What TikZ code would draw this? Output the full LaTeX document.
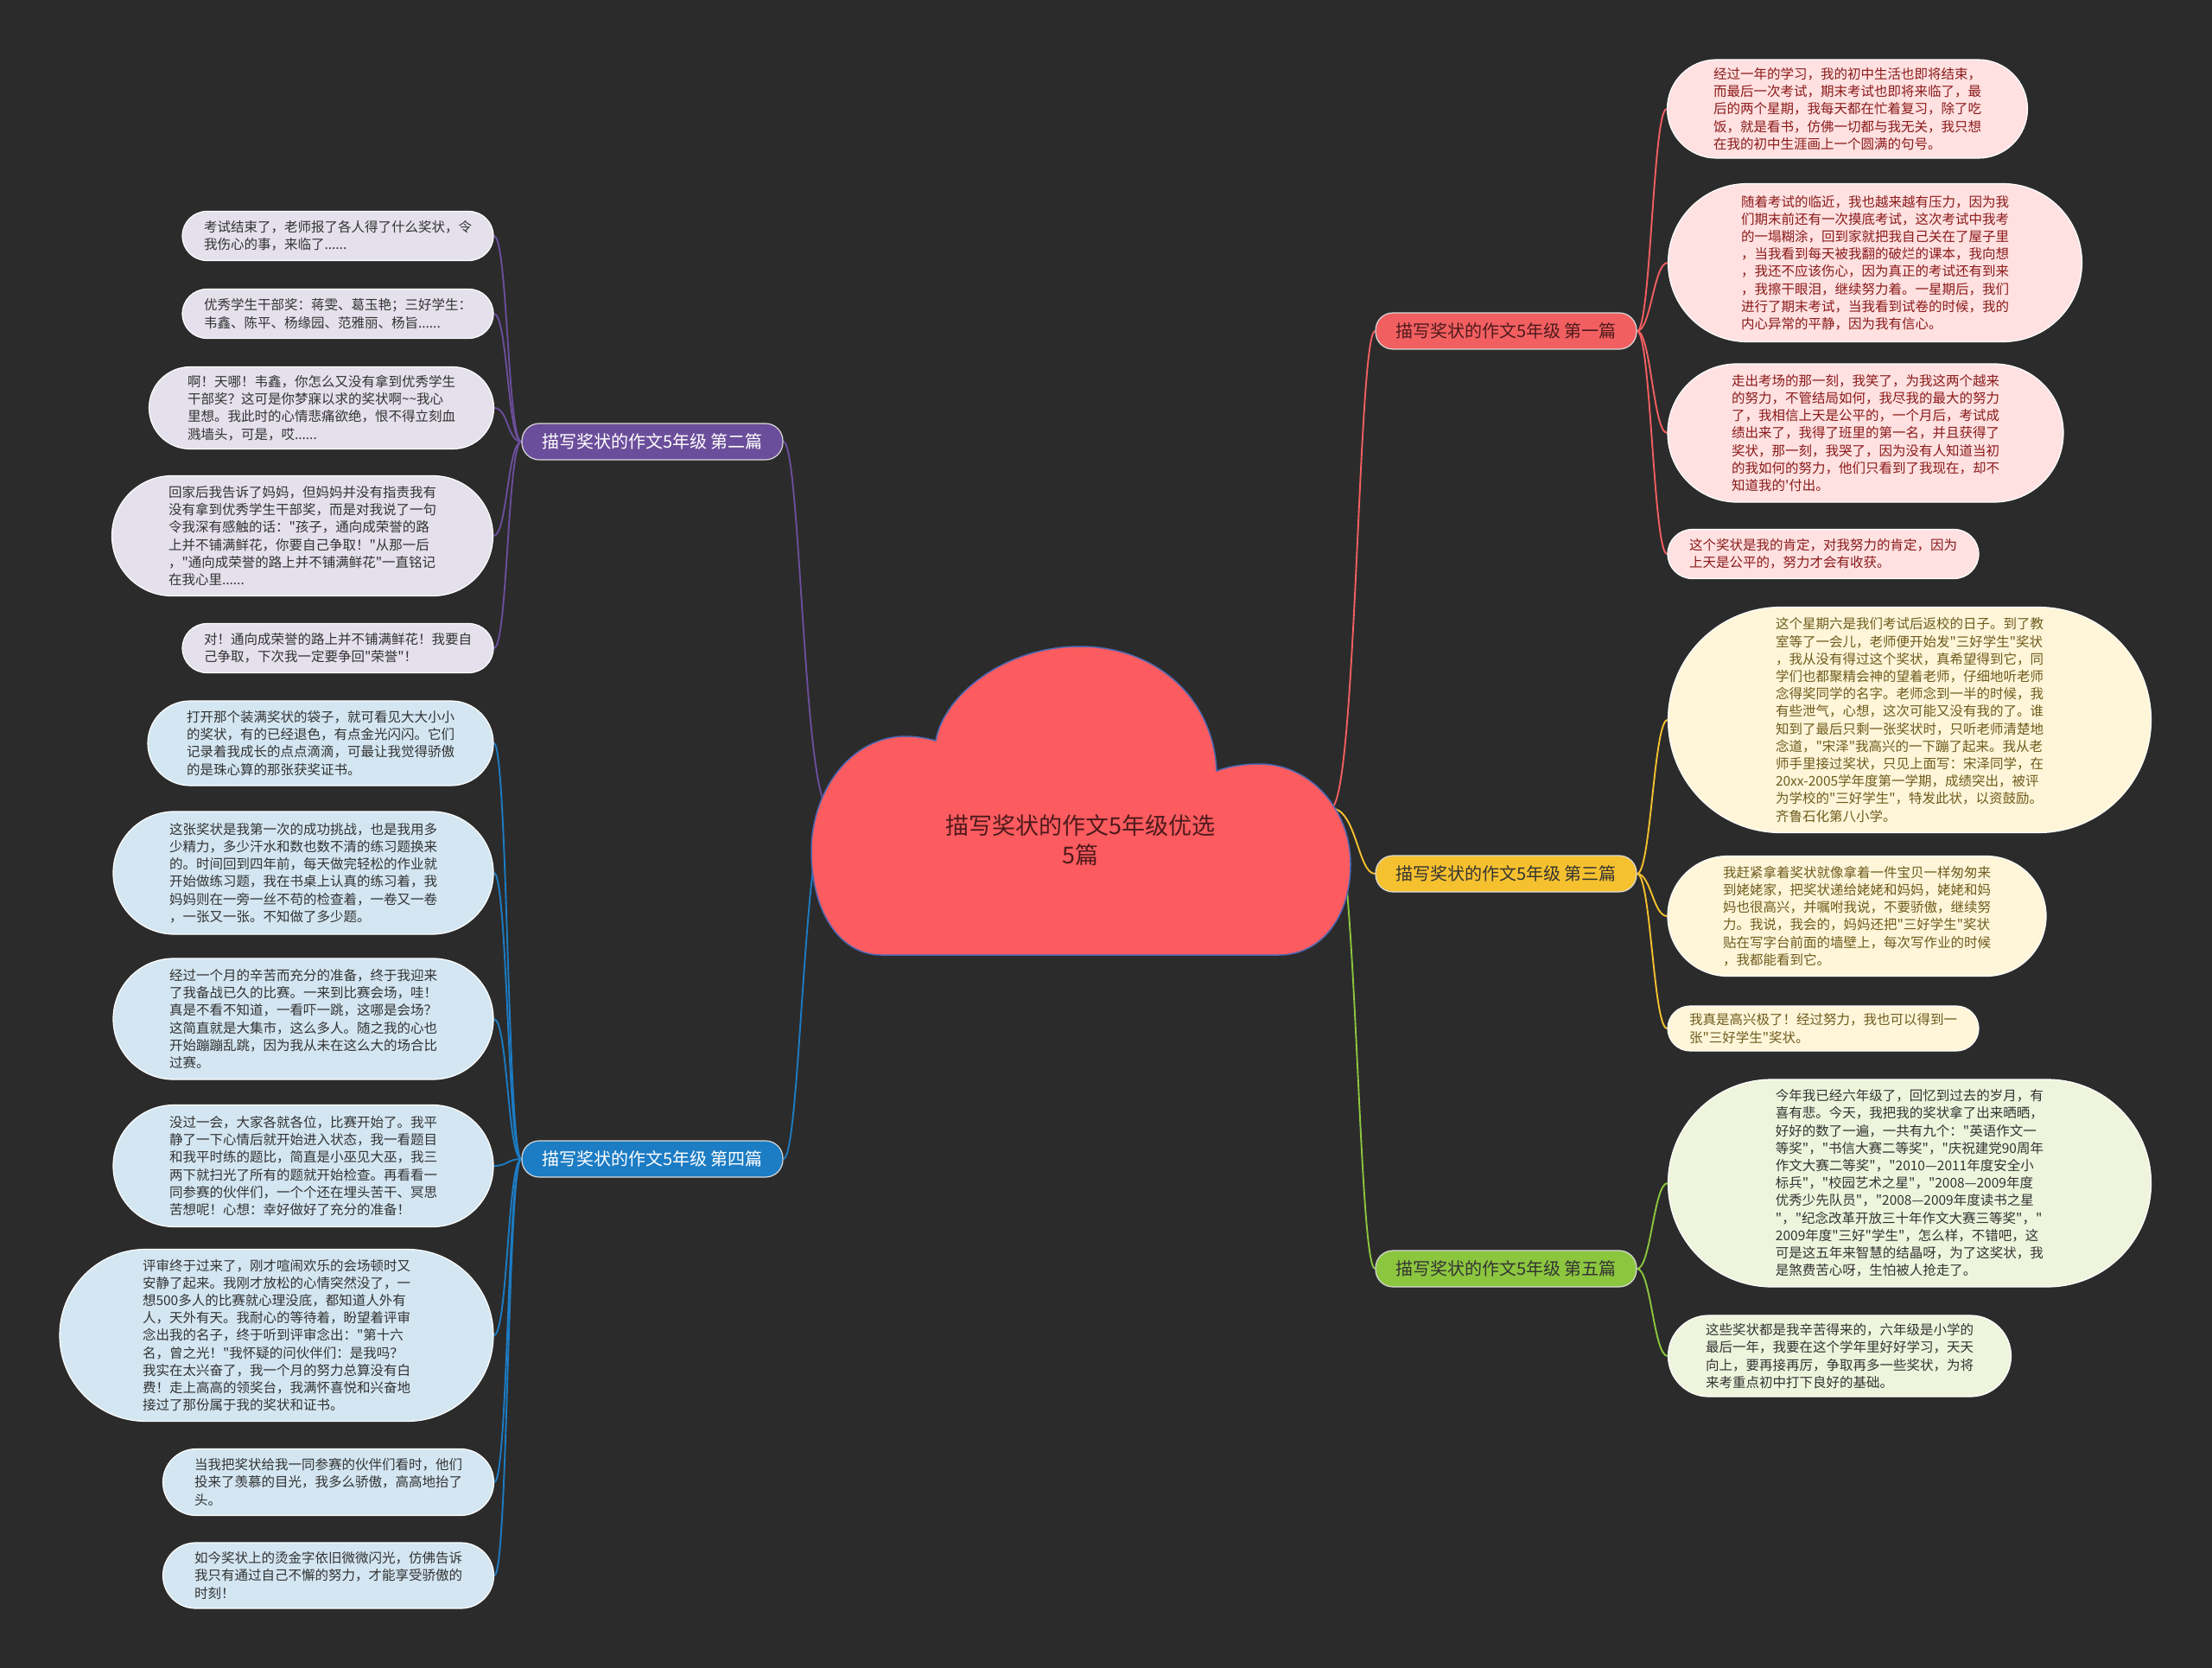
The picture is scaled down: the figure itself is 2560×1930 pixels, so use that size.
\documentclass[tikz,border=0pt]{standalone}
\usepackage{fontspec}
\newfontfamily\cjk{Noto Sans CJK SC}
\usetikzlibrary{shapes.misc}
\definecolor{mmBack}{HTML}{2B2B2B}
\definecolor{mmCoral}{HTML}{FC5B5F}
\definecolor{mmCloudLine}{HTML}{4F68B2}
\definecolor{mmRed}{HTML}{F25F61}
\definecolor{mmYellow}{HTML}{F6C12F}
\definecolor{mmGreen}{HTML}{8CC63F}
\definecolor{mmPurple}{HTML}{6B4E9B}
\definecolor{mmBlue}{HTML}{1C7CC4}
\definecolor{mmPinkLeaf}{HTML}{FFE1E1}
\definecolor{mmCreamLeaf}{HTML}{FFF6D9}
\definecolor{mmLimeLeaf}{HTML}{EEF5DC}
\definecolor{mmLilacLeaf}{HTML}{E4E0EC}
\definecolor{mmSkyLeaf}{HTML}{D3E6F2}
\definecolor{mmPinkText}{HTML}{8B1A1A}
\definecolor{mmMaroon}{HTML}{4E1A1C}
\definecolor{mmCreamText}{HTML}{6E5B1D}
\definecolor{mmDarkText}{HTML}{333333}
\pgfdeclarelayer{back}
\pgfdeclarelayer{lines}
\pgfsetlayers{back,lines,main}
\tikzset{
  mmroot/.style={align=center, text=mmMaroon,
    font=\cjk\fontsize{27}{34}\selectfont},
  mmtopic/.style={
    rectangle, rounded corners=20pt, draw=white!85!black, line width=1.2pt,
    minimum width=302pt, minimum height=42pt, inner sep=2pt,
    font=\cjk\fontsize{20}{24}\selectfont
  },
  mmleaf/.style={
    rounded rectangle, draw=white, line width=1.2pt, align=left,
    inner sep=4pt, font=\cjk\fontsize{15.5}{20.2}\selectfont
  },
  pinkleaf/.style={mmleaf, fill=mmPinkLeaf, text=mmPinkText},
  creamleaf/.style={mmleaf, fill=mmCreamLeaf, text=mmCreamText},
  limeleaf/.style={mmleaf, fill=mmLimeLeaf, text=mmDarkText},
  lilacleaf/.style={mmleaf, fill=mmLilacLeaf, text=mmDarkText},
  skyleaf/.style={mmleaf, fill=mmSkyLeaf, text=mmDarkText},
  mmlink/.style={line width=1.9pt}
}

\begin{document}
\begin{tikzpicture}[x=1pt,y=-1pt]
  \begin{pgfonlayer}{back}
    \fill[mmBack] (0,0) rectangle (2560,1930);
  \end{pgfonlayer}
  \useasboundingbox (0,0) rectangle (2560,1930);

  % central cloud
  \filldraw[fill=mmCoral, draw=mmCloudLine, line width=1.5pt]
    (1020,1105) -- (1480,1105)
    .. controls (1530,1105) and (1563,1060) .. (1563,1000)
    .. controls (1563,935) and (1515,884) .. (1458,884)
    .. controls (1438,884) and (1422,887) .. (1408,892)
    .. controls (1404,805) and (1335,748) .. (1250,748)
    .. controls (1162,748) and (1092,805) .. (1083,857)
    .. controls (1072,854) and (1060,852) .. (1048,852)
    .. controls (985,852) and (939,915) .. (939,985)
    .. controls (939,1055) and (972,1105) .. (1020,1105) -- cycle;
  \node[mmroot] (root) at (1250,972) {描写奖状的作文5年级优选\\5篇};
  \coordinate (cR) at (1540,935);
  \coordinate (cL) at (960,935);

  % topics
  \node[mmtopic, fill=mmRed, text=mmMaroon] (t1) at (1743,383) {描写奖状的作文5年级 第一篇};
  \node[mmtopic, fill=mmYellow, text=black!80] (t3) at (1743,1011) {描写奖状的作文5年级 第三篇};
  \node[mmtopic, fill=mmGreen, text=black!80] (t5) at (1743,1468) {描写奖状的作文5年级 第五篇};
  \node[mmtopic, fill=mmPurple, text=white] (t2) at (755,511) {描写奖状的作文5年级 第二篇};
  \node[mmtopic, fill=mmBlue, text=white] (t4) at (755,1341) {描写奖状的作文5年级 第四篇};

  % first
  \node[pinkleaf, minimum width=425pt, minimum height=114pt] (r1a) at (2138,126)
    {经过一年的学习，我的初中生活也即将结束，\\而最后一次考试，期末考试也即将来临了，最\\后的两个星期，我每天都在忙着复习，除了吃\\饭，就是看书，仿佛一切都与我无关，我只想\\在我的初中生涯画上一个圆满的句号。};
  \node[pinkleaf, minimum width=487pt, minimum height=183pt] (r1b) at (2170,304)
    {随着考试的临近，我也越来越有压力，因为我\\们期末前还有一次摸底考试，这次考试中我考\\的一塌糊涂，回到家就把我自己关在了屋子里\\，当我看到每天被我翻的破烂的课本，我向想\\，我还不应该伤心，因为真正的考试还有到来\\，我擦干眼泪，继续努力着。一星期后，我们\\进行了期末考试，当我看到试卷的时候，我的\\内心异常的平静，因为我有信心。};
  \node[pinkleaf, minimum width=466pt, minimum height=160pt] (r1c) at (2159,501)
    {走出考场的那一刻，我笑了，为我这两个越来\\的努力，不管结局如何，我尽我的最大的努力\\了，我相信上天是公平的，一个月后，考试成\\绩出来了，我得了班里的第一名，并且获得了\\奖状，那一刻，我哭了，因为没有人知道当初\\的我如何的努力，他们只看到了我现在，却不\\知道我的'付出。};
  \node[pinkleaf, minimum width=368pt, minimum height=57pt] (r1d) at (2110,641)
    {这个奖状是我的肯定，对我努力的肯定，因为\\上天是公平的，努力才会有收获。};

  % third
  \node[creamleaf, minimum width=567pt, minimum height=261pt] (r3a) at (2210,833)
    {这个星期六是我们考试后返校的日子。到了教\\室等了一会儿，老师便开始发"三好学生"奖状\\，我从没有得过这个奖状，真希望得到它，同\\学们也都聚精会神的望着老师，仔细地听老师\\念得奖同学的名字。老师念到一半的时候，我\\有些泄气，心想，这次可能又没有我的了。谁\\知到了最后只剩一张奖状时，只听老师清楚地\\念道，"宋泽"我高兴的一下蹦了起来。我从老\\师手里接过奖状，只见上面写：宋泽同学，在\\20xx-2005学年度第一学期，成绩突出，被评\\为学校的"三好学生"，特发此状，以资鼓励。\\齐鲁石化第八小学。};
  \node[creamleaf, minimum width=446pt, minimum height=139pt] (r3b) at (2149,1060)
    {我赶紧拿着奖状就像拿着一件宝贝一样匆匆来\\到姥姥家，把奖状递给姥姥和妈妈，姥姥和妈\\妈也很高兴，并嘱咐我说，不要骄傲，继续努\\力。我说，我会的，妈妈还把"三好学生"奖状\\贴在写字台前面的墙壁上，每次写作业的时候\\，我都能看到它。};
  \node[creamleaf, minimum width=368pt, minimum height=52pt] (r3c) at (2110,1190)
    {我真是高兴极了！经过努力，我也可以得到一\\张"三好学生"奖状。};

  % fifth
  \node[limeleaf, minimum width=567pt, minimum height=240pt] (r5a) at (2210,1369)
    {今年我已经六年级了，回忆到过去的岁月，有\\喜有悲。今天，我把我的奖状拿了出来晒晒，\\好好的数了一遍，一共有九个："英语作文一\\等奖"，"书信大赛二等奖"，"庆祝建党90周年\\作文大赛二等奖"，"2010—2011年度安全小\\标兵"，"校园艺术之星"，"2008—2009年度\\优秀少先队员"，"2008—2009年度读书之星\\"，"纪念改革开放三十年作文大赛三等奖"，"\\2009年度"三好"学生"，怎么样，不错吧，这\\可是这五年来智慧的结晶呀，为了这奖状，我\\是煞费苦心呀，生怕被人抢走了。};
  \node[limeleaf, minimum width=405pt, minimum height=94pt] (r5b) at (2129,1569)
    {这些奖状都是我辛苦得来的，六年级是小学的\\最后一年，我要在这个学年里好好学习，天天\\向上，要再接再厉，争取再多一些奖状，为将\\来考重点初中打下良好的基础。};

  % second
  \node[lilacleaf, minimum width=368pt, minimum height=57pt] (l2a) at (391,273)
    {考试结束了，老师报了各人得了什么奖状，令\\我伤心的事，来临了......};
  \node[lilacleaf, minimum width=368pt, minimum height=57pt] (l2b) at (391,363)
    {优秀学生干部奖：蒋雯、葛玉艳；三好学生：\\韦鑫、陈平、杨缘园、范雅丽、杨旨......};
  \node[lilacleaf, minimum width=407pt, minimum height=95pt] (l2c) at (372,472)
    {啊！天哪！韦鑫，你怎么又没有拿到优秀学生\\干部奖？这可是你梦寐以求的奖状啊\textasciitilde\textasciitilde 我心\\里想。我此时的心情悲痛欲绝，恨不得立刻血\\溅墙头，可是，哎......};
  \node[lilacleaf, minimum width=449pt, minimum height=139pt] (l2d) at (350,620)
    {回家后我告诉了妈妈，但妈妈并没有指责我有\\没有拿到优秀学生干部奖，而是对我说了一句\\令我深有感触的话："孩子，通向成荣誉的路\\上并不铺满鲜花，你要自己争取！"从那一后\\，"通向成荣誉的路上并不铺满鲜花"一直铭记\\在我心里......};
  \node[lilacleaf, minimum width=368pt, minimum height=57pt] (l2e) at (391,750)
    {对！通向成荣誉的路上并不铺满鲜花！我要自\\己争取，下次我一定要争回"荣誉"！};

  % fourth
  \node[skyleaf, minimum width=408pt, minimum height=98pt] (l4a) at (371,860)
    {打开那个装满奖状的袋子，就可看见大大小小\\的奖状，有的已经退色，有点金光闪闪。它们\\记录着我成长的点点滴滴，可最让我觉得骄傲\\的是珠心算的那张获奖证书。};
  \node[skyleaf, minimum width=448pt, minimum height=142pt] (l4b) at (351,1010)
    {这张奖状是我第一次的成功挑战，也是我用多\\少精力，多少汗水和数也数不清的练习题换来\\的。时间回到四年前，每天做完轻松的作业就\\开始做练习题，我在书桌上认真的练习着，我\\妈妈则在一旁一丝不苟的检查着，一卷又一卷\\，一张又一张。不知做了多少题。};
  \node[skyleaf, minimum width=448pt, minimum height=140pt] (l4c) at (351,1179)
    {经过一个月的辛苦而充分的准备，终于我迎来\\了我备战已久的比赛。一来到比赛会场，哇！\\真是不看不知道，一看吓一跳，这哪是会场？\\这简直就是大集市，这么多人。随之我的心也\\开始蹦蹦乱跳，因为我从未在这么大的场合比\\过赛。};
  \node[skyleaf, minimum width=448pt, minimum height=141pt] (l4d) at (351,1349)
    {没过一会，大家各就各位，比赛开始了。我平\\静了一下心情后就开始进入状态，我一看题目\\和我平时练的题比，简直是小巫见大巫，我三\\两下就扫光了所有的题就开始检查。再看看一\\同参赛的伙伴们，一个个还在埋头苦干、冥思\\苦想呢！心想：幸好做好了充分的准备！};
  \node[skyleaf, minimum width=510pt, minimum height=199pt] (l4e) at (320,1545)
    {评审终于过来了，刚才喧闹欢乐的会场顿时又\\安静了起来。我刚才放松的心情突然没了，一\\想500多人的比赛就心理没底，都知道人外有\\人，天外有天。我耐心的等待着，盼望着评审\\念出我的名子，终于听到评审念出："第十六\\名，曾之光！"我怀疑的问伙伴们：是我吗？\\我实在太兴奋了，我一个月的努力总算没有白\\费！走上高高的领奖台，我满怀喜悦和兴奋地\\接过了那份属于我的奖状和证书。};
  \node[skyleaf, minimum width=391pt, minimum height=77pt] (l4f) at (380,1715)
    {当我把奖状给我一同参赛的伙伴们看时，他们\\投来了羡慕的目光，我多么骄傲，高高地抬了\\头。};
  \node[skyleaf, minimum width=391pt, minimum height=76pt] (l4g) at (380,1823)
    {如今奖状上的烫金字依旧微微闪光，仿佛告诉\\我只有通过自己不懈的努力，才能享受骄傲的\\时刻！};

  % connectors
  \begin{pgfonlayer}{lines}
    \draw[mmlink, mmRed] (cR) .. controls +(30,0) and +(-20,0) .. (t1.west);
    \draw[mmlink, mmYellow] (cR) .. controls +(30,0) and +(-20,0) .. (t3.west);
    \draw[mmlink, mmGreen] (cR) .. controls +(30,0) and +(-20,0) .. (t5.west);
    \draw[mmlink, mmPurple] (cL) .. controls +(-30,0) and +(20,0) .. (t2.east);
    \draw[mmlink, mmBlue] (cL) .. controls +(-30,0) and +(20,0) .. (t4.east);

    \draw[mmlink, mmRed] (t1.east) .. controls +(16,0) and +(-16,0) .. (r1a.west);
    \draw[mmlink, mmRed] (t1.east) .. controls +(16,0) and +(-16,0) .. (r1b.west);
    \draw[mmlink, mmRed] (t1.east) .. controls +(16,0) and +(-16,0) .. (r1c.west);
    \draw[mmlink, mmRed] (t1.east) .. controls +(16,0) and +(-16,0) .. (r1d.west);

    \draw[mmlink, mmYellow] (t3.east) .. controls +(16,0) and +(-16,0) .. (r3a.west);
    \draw[mmlink, mmYellow] (t3.east) .. controls +(16,0) and +(-16,0) .. (r3b.west);
    \draw[mmlink, mmYellow] (t3.east) .. controls +(16,0) and +(-16,0) .. (r3c.west);

    \draw[mmlink, mmGreen] (t5.east) .. controls +(16,0) and +(-16,0) .. (r5a.west);
    \draw[mmlink, mmGreen] (t5.east) .. controls +(16,0) and +(-16,0) .. (r5b.west);

    \draw[mmlink, mmPurple] (t2.west) .. controls +(-16,0) and +(16,0) .. (l2a.east);
    \draw[mmlink, mmPurple] (t2.west) .. controls +(-16,0) and +(16,0) .. (l2b.east);
    \draw[mmlink, mmPurple] (t2.west) .. controls +(-16,0) and +(16,0) .. (l2c.east);
    \draw[mmlink, mmPurple] (t2.west) .. controls +(-16,0) and +(16,0) .. (l2d.east);
    \draw[mmlink, mmPurple] (t2.west) .. controls +(-16,0) and +(16,0) .. (l2e.east);

    \draw[mmlink, mmBlue] (t4.west) .. controls +(-16,0) and +(16,0) .. (l4a.east);
    \draw[mmlink, mmBlue] (t4.west) .. controls +(-16,0) and +(16,0) .. (l4b.east);
    \draw[mmlink, mmBlue] (t4.west) .. controls +(-16,0) and +(16,0) .. (l4c.east);
    \draw[mmlink, mmBlue] (t4.west) .. controls +(-16,0) and +(16,0) .. (l4d.east);
    \draw[mmlink, mmBlue] (t4.west) .. controls +(-16,0) and +(16,0) .. (l4e.east);
    \draw[mmlink, mmBlue] (t4.west) .. controls +(-16,0) and +(16,0) .. (l4f.east);
    \draw[mmlink, mmBlue] (t4.west) .. controls +(-16,0) and +(16,0) .. (l4g.east);
  \end{pgfonlayer}
\end{tikzpicture}
\end{document}
